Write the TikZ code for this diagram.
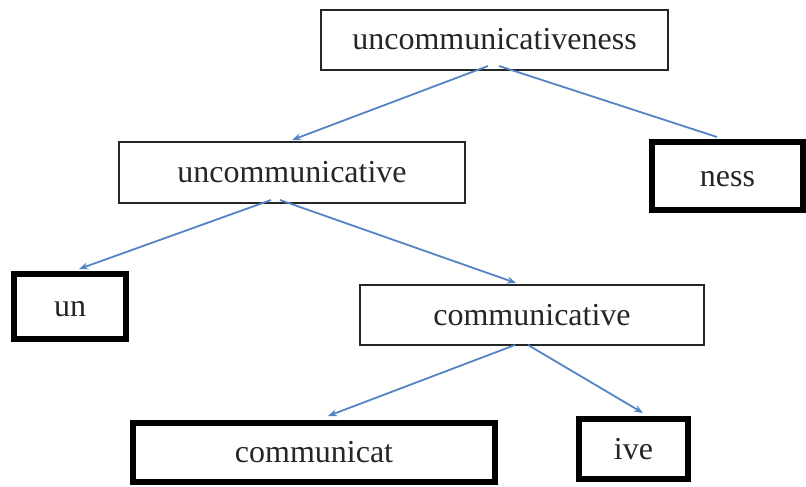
\documentclass[tikz,border=0pt]{standalone}
\usepackage{fontspec}
\setmainfont{Liberation Serif}
\usetikzlibrary{arrows.meta,calc}
\definecolor{linkblue}{RGB}{84,132,196}
\definecolor{ink}{RGB}{38,38,38}
\begin{document}
\begin{tikzpicture}[x=1pt,y=-1pt,
  wordbox/.style={draw=ink,line width=2pt,inner sep=0pt,text=ink,
    text height=20pt,text depth=0pt,
    font=\fontsize{32}{38}\selectfont},
  morph/.style={wordbox,draw=black,line width=6pt},
  link/.style={draw=linkblue,line width=1.8pt},
  linkarrow/.style={link,-{Stealth[length=9pt,width=7pt]}}]
\useasboundingbox (0,0) rectangle (806,487);
\fill[white] (0,0) rectangle (806,487);

% word and morpheme boxes
\node[wordbox,minimum width=347pt,minimum height=60pt] (whole) at (494.5,40) {uncommunicativeness};
\node[wordbox,minimum width=346pt,minimum height=61pt] (uncomm) at (292,172.5) {uncommunicative};
\node[morph,minimum width=151pt,minimum height=68pt] (ness) at (727.5,176) {ness};
\node[morph,minimum width=112pt,minimum height=65pt] (un) at (70,306.5) {un};
\node[wordbox,minimum width=344pt,minimum height=60pt] (comm) at (532,315) {communicative};
\node[morph,minimum width=362pt,minimum height=59pt] (commt) at (314,452.5) {communicat};
\node[morph,minimum width=109pt,minimum height=60pt] (ive) at (633.5,449) {ive};

% branches of the tree
\draw[linkarrow] ($(whole.south)+(-6.5,-5)$) -- ($(uncomm.north)+(0,-1)$);
\draw[link] ($(whole.south)+(4.5,-5)$) -- ($(ness.north)+(-10.5,-2)$);
\draw[linkarrow] ($(uncomm.south)+(-21,-4)$) -- ($(un.north)+(9,-2)$);
\draw[linkarrow] ($(uncomm.south)+(-12,-4)$) -- ($(comm.north)+(-16,-1)$);
\draw[linkarrow] ($(comm.south)+(-17,-1)$) -- ($(commt.north)+(14,-4)$);
\draw[linkarrow] ($(comm.south)+(-4,-1)$) -- ($(ive.north)+(9.5,-3)$);
\end{tikzpicture}
\end{document}
